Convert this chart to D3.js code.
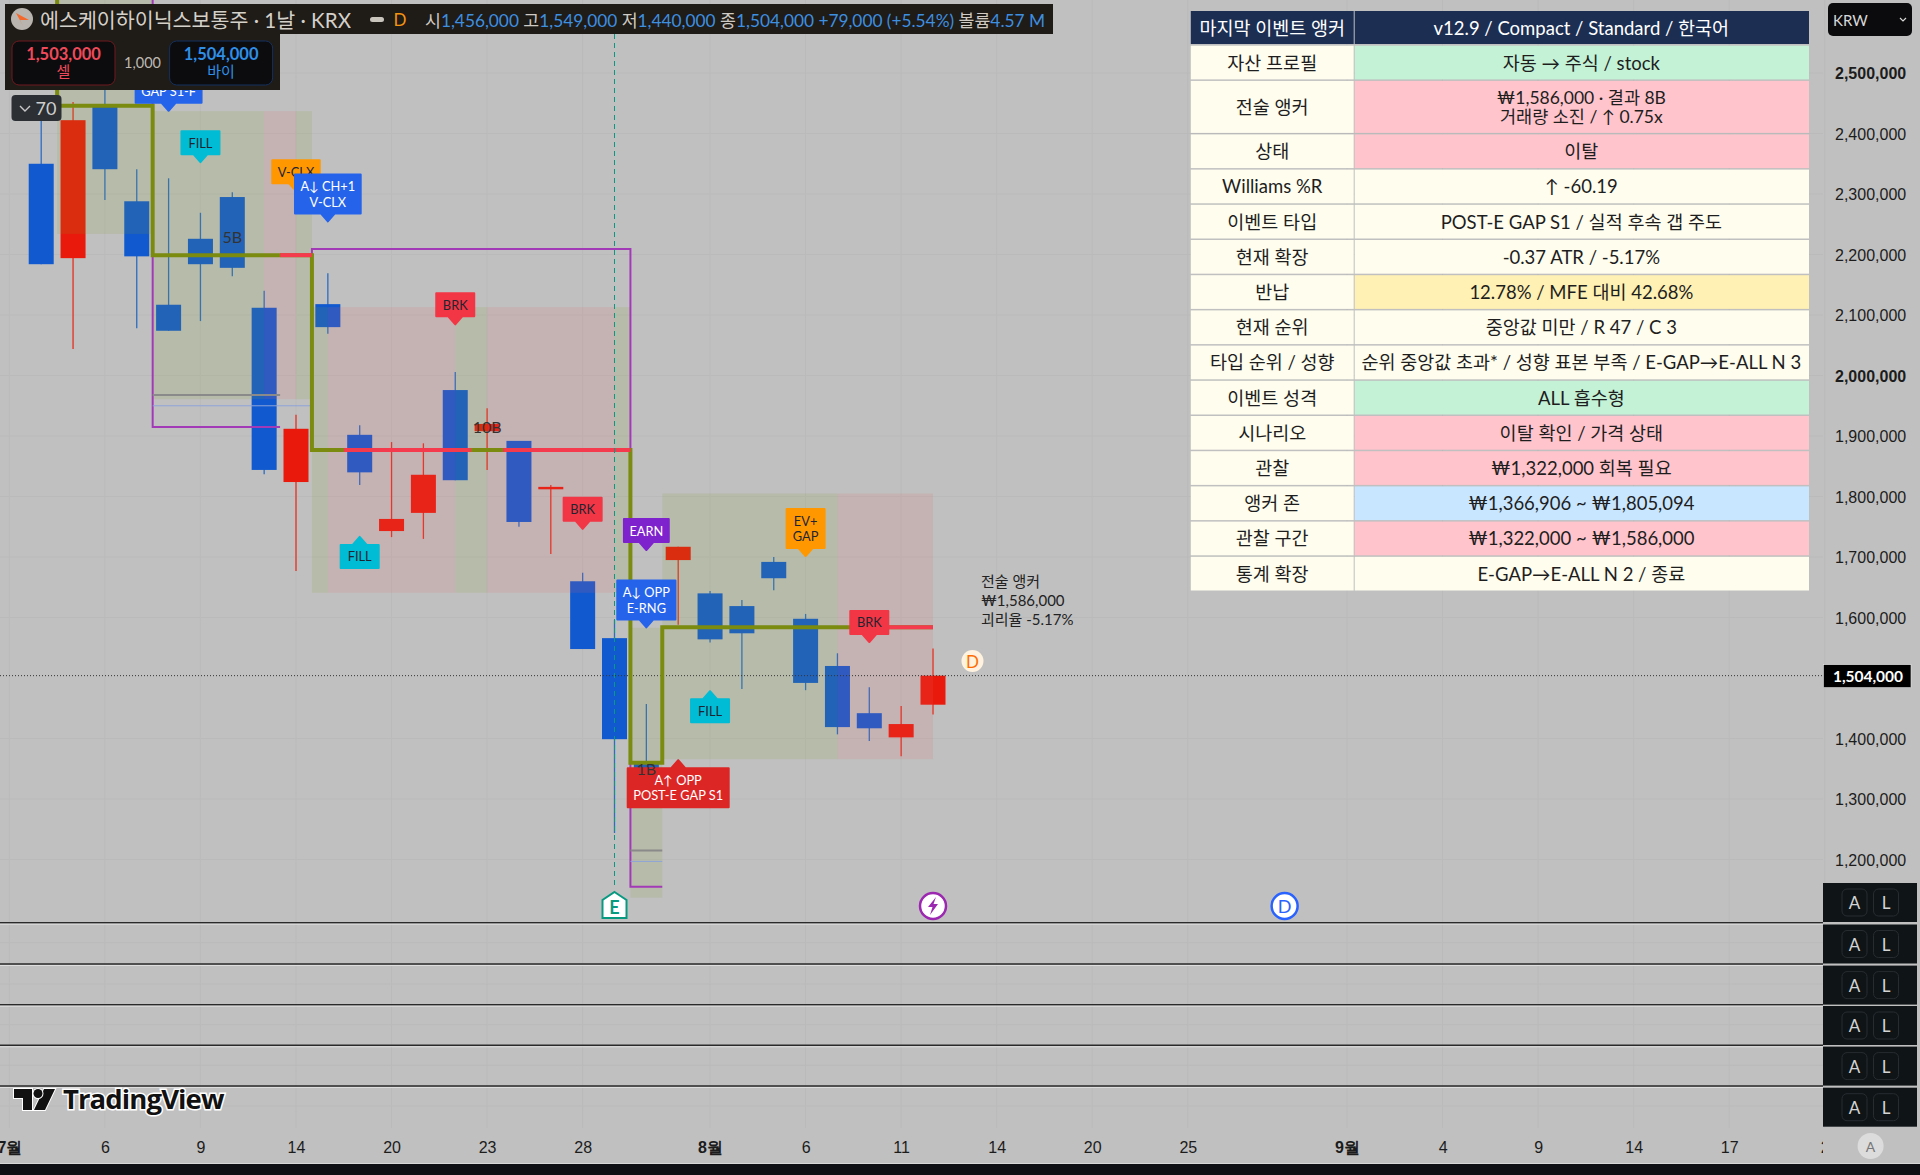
<!DOCTYPE html>
<html>

<head>
    <meta charset="utf-8">
    <style>
        html, body {
            margin: 0;
            padding: 0;
            background: #c0c0c0;
        }

        svg {
            display: block;
            font-family: Lato, 'Noto Sans CJK KR', sans-serif;
        }

        .axis path, .axis line {
            display: none;
        }
    </style>
</head>

<body>
    <svg id="chart" width="1920" height="1175"></svg>
</body>

<script src="https://d3js.org/d3.v7.min.js"></script>

<script>
    // candles, one per trading day
    let opens = [2350000, 2194000, 2445000, 2288000, 2117000, 2226000, 2295000, 2112000, 1824000, 2118000, 1902000, 1743000, 1773000, 1976000, 1908000, 1892000, 1812000, 1660000, 1566000, 1358000, 1695000, 1640000, 1619000, 1692000, 1598000, 1520000, 1442000, 1402000, 1456000]
    let highs = [2447000, 2452000, 2480000, 2341000, 2326000, 2269000, 2303000, 2140000, 1935000, 2169000, 1918000, 1890000, 1888000, 2006000, 1946000, 1892000, 1819000, 1674000, 1596000, 1457000, 1717000, 1644000, 1629000, 1700000, 1606000, 1541000, 1485000, 1454000, 1549000]
    let lows = [2184000, 2044000, 2290000, 2078000, 2074000, 2090000, 2164000, 1837000, 1677000, 2069000, 1819000, 1733000, 1730000, 1827000, 1844000, 1750000, 1705000, 1548000, 1244000, 1322000, 1588000, 1559000, 1482000, 1645000, 1480000, 1407000, 1396000, 1371000, 1440000]
    let closes = [2184000, 2422000, 2341000, 2197000, 2074000, 2184000, 2178000, 1844000, 1912000, 2080000, 1840000, 1763000, 1836000, 1827000, 1920000, 1758000, 1816000, 1548000, 1399000, 1340000, 1717000, 1564000, 1574000, 1665000, 1492000, 1419000, 1417000, 1424000, 1504000]

    // axes
    let priceTicks = [2500000, 2400000, 2300000, 2200000, 2100000, 2000000, 1900000, 1800000, 1700000, 1600000, 1400000, 1300000, 1200000]
    let boldPrices = [2500000, 2000000]
    let dateBars = [-1, 2, 5, 8, 11, 14, 17, 21, 24, 27, 30, 33, 36, 41, 44, 47, 50, 53, 56]
    let dateLabels = ['7월', '6', '9', '14', '20', '23', '28', '8월', '6', '11', '14', '20', '25', '9월', '4', '9', '14', '17', '2']
    let lastPrice = 1504000

    // shaded zones
    let zoneStarts = [0.5, 3.5, 7, 8, 8.5, 9, 13, 14, 18, 18.5, 19.5, 25]
    let zoneEnds = [3.5, 7, 8, 8.5, 9, 13, 14, 18, 18.5, 19.5, 25, 28]
    let zoneTops = [2640000, 2437000, 2437000, 2437000, 2113000, 2113000, 2113000, 2113000, 2113000, 1583000, 1805000, 1805000]
    let zoneBottoms = [2234000, 1961000, 1961000, 1961000, 1641000, 1641000, 1641000, 1641000, 1641000, 1137000, 1366000, 1366000]
    let zoneKinds = ['olive', 'olive', 'pink', 'olive', 'olive', 'pink', 'olive', 'pink', 'olive', 'olive', 'olive', 'pink']

    // anchor step line and the stretches of it that were broken
    let stepBars = [0.5, 0.5, 3.5, 8.5, 18.5, 19.5, 28]
    let stepPrices = [2640000, 2446000, 2199000, 1877000, 1360000, 1584000, 1584000]
    let brokenStarts = [7.5, 9.5, 14.5, 25.5]
    let brokenEnds = [8.5, 13.5, 18.5, 28]
    let brokenPrices = [2199000, 1877000, 1877000, 1584000]

    // purple boxes, only the middle one shows all four sides
    let boxStarts = [3.5, 8.5, 18.5]
    let boxEnds = [7.5, 18.5, 19.5]
    let boxTops = [2640000, 2209000, 1877000]
    let boxBottoms = [1915000, 1877000, 1155000]
    let boxClosed = [false, true, false]

    // short lines at the bottom of the zones
    let grayStarts = [3.5, 18.5]
    let grayEnds = [7.5, 19.5]
    let grayPrices = [1968000, 1215000]
    let blueStarts = [3.5, 18.5]
    let blueEnds = [8.5, 19.5]
    let bluePrices = [1950000, 1197000]

    // flags on the chart
    let flagBars = [4, 5, 8, 9, 13, 10, 17, 19, 19, 24, 21, 26, 20]
    let flagPrices = [2436000, 2351000, 2303000, 2253000, 2083000, 1735000, 1745000, 1710000, 1582000, 1700000, 1480000, 1558000, 1366000]
    let flagTexts = ['A↓ OPP\nGAP S1-F', 'FILL', 'V-CLX', 'A↓ CH+1\nV-CLX', 'BRK', 'FILL', 'BRK', 'EARN', 'A↓ OPP\nE-RNG', 'EV+\nGAP', 'FILL', 'BRK', 'A↑ OPP\nPOST-E GAP S1']
    let flagKinds = ['blue', 'cyan', 'orange', 'blue', 'red', 'cyan', 'red', 'purple', 'blue', 'orange', 'cyan', 'red', 'crimson']
    let flagUp = [false, false, false, false, false, true, false, false, false, false, true, false, true]

    // count labels on the candles
    let countBars = [6, 14, 19]
    let countPrices = [2230000, 1915000, 1350000]
    let countTexts = ['5B', '10B', '1B']

    // info table
    let tableHead = ['마지막 이벤트 앵커', 'v12.9 / Compact / Standard / 한국어']
    let tableLabels = ['자산 프로필', '전술 앵커', '상태', 'Williams %R', '이벤트 타입', '현재 확장', '반납', '현재 순위', '타입 순위 / 성향', '이벤트 성격', '시나리오', '관찰', '앵커 존', '관찰 구간', '통계 확장']
    let tableValues = [
        '자동 → 주식 / stock',
        '₩1,586,000 · 결과 8B\n거래량 소진 / ↑ 0.75x',
        '이탈',
        '↑ -60.19',
        'POST-E GAP S1 / 실적 후속 갭 주도',
        '-0.37 ATR / -5.17%',
        '12.78% / MFE 대비 42.68%',
        '중앙값 미만 / R 47 / C 3',
        '순위 중앙값 초과* / 성향 표본 부족 / E-GAP→E-ALL N 3',
        'ALL 흡수형',
        '이탈 확인 / 가격 상태',
        '₩1,322,000 회복 필요',
        '₩1,366,906 ~ ₩1,805,094',
        '₩1,322,000 ~ ₩1,586,000',
        'E-GAP→E-ALL N 2 / 종료'
    ]
    let tableKinds = ['good', 'bad', 'bad', 'plain', 'plain', 'plain', 'warn', 'plain', 'plain', 'good', 'bad', 'bad', 'info', 'bad', 'plain']

    // header
    let headerTitle = '에스케이하이닉스보통주 · 1날 · KRX'
    let headerNames = ['시', '고', '저', '종']
    let headerValues = ['1,456,000', '1,549,000', '1,440,000', '1,504,000']
    let headerChange = '+79,000 (+5.54%)'
    let headerVolume = '4.57 M'
    let sellPrice = '1,503,000'
    let buyPrice = '1,504,000'
    let spread = '1,000'
    let anchorNote = ['전술 앵커', '₩1,586,000', '괴리율 -5.17%']

    let colors = {
        up: '#e9190b', down: '#1159cf',
        upWick: '#e62f1f', downWick: '#2b6cc4',
        olive: 'rgba(132,159,45,0.15)', pink: 'rgba(225,99,105,0.15)',
        anchor: '#7b8b0f', broken: '#f43a4c', box: '#a23ab8',
        blue: '#2563eb', cyan: '#00bcd4', orange: '#ff9800', red: '#f23645', purple: '#7e22ce', crimson: '#dc2626',
        good: '#c4f2d6', bad: '#ffc4cc', warn: '#fff0b3', info: '#c8e6ff', plain: '#fffdee'
    }
    let darkFlags = ['cyan', 'orange', 'red']

    let plotRight = 1823

    let x = d3.scaleLinear().domain([0, 1]).range([41.2, 73.05])
    let y = d3.scaleLinear().domain([2500000, 1200000]).range([73, 859.6])

    let svg = d3.select('#chart')

    svg.append('clipPath').attr('id', 'plot-clip')
        .append('rect').attr('width', plotRight).attr('height', 1175)

    // grid
    let grid = svg.append('g')
    grid.selectAll('.v')
        .data(dateBars)
        .join('line')
        .attr('x1', d => x(d)).attr('x2', d => x(d))
        .attr('y1', 0).attr('y2', 1128)
        .attr('stroke', '#bababa').attr('stroke-width', 1)
    grid.selectAll('.h')
        .data(priceTicks)
        .join('line')
        .attr('x1', 0).attr('x2', plotRight)
        .attr('y1', d => y(d)).attr('y2', d => y(d))
        .attr('stroke', '#bababa').attr('stroke-width', 1)

    // candles
    let candles = svg.append('g')
        .selectAll('g')
        .data(opens.map((o, i) => ({ i, o, h: highs[i], l: lows[i], c: closes[i] })))
        .join('g')

    candles.append('line')
        .attr('x1', d => x(d.i)).attr('x2', d => x(d.i))
        .attr('y1', d => y(d.h)).attr('y2', d => y(d.l))
        .attr('stroke', d => d.c >= d.o ? colors.upWick : colors.downWick)
        .attr('stroke-width', 1.3)

    candles.append('rect')
        .attr('x', d => x(d.i) - 12.5)
        .attr('width', 25)
        .attr('y', d => y(Math.max(d.o, d.c)))
        .attr('height', d => Math.max(2, Math.abs(y(d.o) - y(d.c))))
        .attr('fill', d => d.c >= d.o ? colors.up : colors.down)

    // zones lie over the candles and tint them
    svg.append('g')
        .selectAll('rect')
        .data(zoneStarts)
        .join('rect')
        .attr('x', d => x(d))
        .attr('width', (d, i) => x(zoneEnds[i]) - x(d))
        .attr('y', (d, i) => y(zoneTops[i]))
        .attr('height', (d, i) => y(zoneBottoms[i]) - y(zoneTops[i]))
        .attr('fill', (d, i) => colors[zoneKinds[i]])

    // last price dotted line
    svg.append('line')
        .attr('x1', 0).attr('x2', plotRight)
        .attr('y1', y(lastPrice)).attr('y2', y(lastPrice))
        .attr('stroke', '#333').attr('stroke-width', 1).attr('stroke-dasharray', '1 2')

    // purple boxes
    svg.append('g')
        .selectAll('path')
        .data(boxStarts)
        .join('path')
        .attr('d', (d, i) => {
            let p = d3.path()
            p.moveTo(x(d), y(boxTops[i]))
            p.lineTo(x(d), y(boxBottoms[i]))
            p.lineTo(x(boxEnds[i]), y(boxBottoms[i]))
            if (boxClosed[i]) {
                p.lineTo(x(boxEnds[i]), y(boxTops[i]))
                p.closePath()
            }
            return p.toString()
        })
        .attr('fill', 'none')
        .attr('stroke', colors.box)
        .attr('stroke-width', 2)

    svg.append('g').selectAll('line')
        .data(grayStarts)
        .join('line')
        .attr('x1', d => x(d)).attr('x2', (d, i) => x(grayEnds[i]))
        .attr('y1', (d, i) => y(grayPrices[i])).attr('y2', (d, i) => y(grayPrices[i]))
        .attr('stroke', '#8a8a8a').attr('stroke-width', 2)

    svg.append('g').selectAll('line')
        .data(blueStarts)
        .join('line')
        .attr('x1', d => x(d)).attr('x2', (d, i) => x(blueEnds[i]))
        .attr('y1', (d, i) => y(bluePrices[i])).attr('y2', (d, i) => y(bluePrices[i]))
        .attr('stroke', '#8ea4d8').attr('stroke-width', 1)

    // anchor step line
    let step = d3.line()
        .x(d => x(d[0]))
        .y(d => y(d[1]))
        .curve(d3.curveStepAfter)

    svg.append('path')
        .attr('d', step(stepBars.map((b, i) => [b, stepPrices[i]])))
        .attr('fill', 'none')
        .attr('stroke', colors.anchor)
        .attr('stroke-width', 4)

    svg.append('g').selectAll('line')
        .data(brokenStarts)
        .join('line')
        .attr('x1', d => x(d)).attr('x2', (d, i) => x(brokenEnds[i]))
        .attr('y1', (d, i) => y(brokenPrices[i])).attr('y2', (d, i) => y(brokenPrices[i]))
        .attr('stroke', colors.broken).attr('stroke-width', 4)

    // earnings line and markers
    svg.append('line')
        .attr('x1', x(18)).attr('x2', x(18))
        .attr('y1', 34).attr('y2', 886)
        .attr('stroke', '#089981').attr('stroke-width', 1).attr('stroke-dasharray', '5 4')

    let ex = x(18)
    svg.append('path')
        .attr('d', `M${ex} 892L${ex + 12} 900V918H${ex - 12}V900Z`)
        .attr('fill', '#fff').attr('stroke', '#089981').attr('stroke-width', 2)
    svg.append('text')
        .attr('x', ex).attr('y', 907)
        .attr('text-anchor', 'middle').attr('dominant-baseline', 'central')
        .attr('font-size', 18).attr('font-weight', 700).attr('fill', '#089981')
        .text('E')

    svg.append('circle')
        .attr('cx', x(28)).attr('cy', 906).attr('r', 13)
        .attr('fill', '#fff').attr('stroke', '#9c27b0').attr('stroke-width', 2.5)
    svg.append('path')
        .attr('d', `M${x(28) + 3} 897L${x(28) - 5} 907H${x(28) - 0.5}L${x(28) - 3} 915L${x(28) + 5} 904H${x(28) + 0.5}Z`)
        .attr('fill', '#9c27b0')

    svg.append('circle')
        .attr('cx', x(39.04)).attr('cy', 906).attr('r', 13)
        .attr('fill', '#fff').attr('stroke', '#2962ff').attr('stroke-width', 2.5)
    svg.append('text')
        .attr('x', x(39.04)).attr('y', 906)
        .attr('text-anchor', 'middle').attr('dominant-baseline', 'central')
        .attr('font-size', 18).attr('fill', '#2962ff')
        .text('D')

    svg.append('circle')
        .attr('cx', x(29.24)).attr('cy', 661).attr('r', 11)
        .attr('fill', '#fff3e0')
    svg.append('text')
        .attr('x', x(29.24)).attr('y', 661)
        .attr('text-anchor', 'middle').attr('dominant-baseline', 'central')
        .attr('font-size', 17).attr('fill', '#ff6d00')
        .text('D')

    // note next to the last candle
    svg.append('g').selectAll('text')
        .data(anchorNote)
        .join('text')
        .attr('x', 981)
        .attr('y', (d, i) => 581 + i * 19)
        .attr('dominant-baseline', 'central')
        .attr('font-size', 15)
        .attr('fill', '#222')
        .text(d => d)

    // flags
    let flags = svg.append('g')
        .selectAll('g')
        .data(flagTexts.map((t, i) => ({ t, i })))
        .join('g')

    flags.each(function (d) {
        let g = d3.select(this)
        let lines = d.t.split('\n')
        let tipX = x(flagBars[d.i])
        let tipY = y(flagPrices[d.i])
        let up = flagUp[d.i]
        let h = lines.length > 1 ? 39 : 23
        let top = up ? tipY + 9 : tipY - 9 - h
        let kind = flagKinds[d.i]

        let shape = g.append('path').attr('fill', colors[kind])
        let label = g.append('text')
            .attr('text-anchor', 'middle')
            .attr('font-size', 12.8)
            .attr('fill', darkFlags.includes(kind) ? '#1f2430' : '#fff')

        lines.forEach((l, k) => {
            label.append('tspan')
                .attr('x', tipX)
                .attr('y', top + h / 2 + (k - (lines.length - 1) / 2) * 15.5)
                .attr('dominant-baseline', 'central')
                .text(l)
        })

        let w = Math.max(38, d3.max(label.selectAll('tspan').nodes(), n => n.getComputedTextLength()) + 11)
        let left = tipX - w / 2
        let tip = up
            ? `M${left} ${top}H${tipX - 7}L${tipX} ${tipY + 1}L${tipX + 7} ${top}H${left + w}`
            : `M${left} ${top}H${left + w}`
        let bottom = top + h
        let tail = up
            ? `V${bottom}H${left}Z`
            : `V${bottom}H${tipX + 7}L${tipX} ${tipY - 1}L${tipX - 7} ${bottom}H${left}Z`
        shape.attr('d', tip + tail)
            .attr('stroke', colors[kind]).attr('stroke-width', 2).attr('stroke-linejoin', 'round')
    })

    // count labels go over the flags
    svg.append('g').selectAll('text')
        .data(countTexts)
        .join('text')
        .attr('x', (d, i) => x(countBars[i]))
        .attr('y', (d, i) => y(countPrices[i]))
        .attr('text-anchor', 'middle')
        .attr('dominant-baseline', 'central')
        .attr('font-size', 16)
        .attr('fill', '#333')
        .text(d => d)

    // price axis
    svg.append('g')
        .attr('class', 'axis')
        .attr('transform', 'translate(1835,0.5)')
        .call(d3.axisRight(y).tickValues(priceTicks).tickSize(0).tickPadding(0).tickFormat(d3.format(',')))
        .call(g => g.selectAll('text')
            .attr('font-size', 16)
            .attr('fill', '#1c1c1c')
            .attr('font-weight', d => boldPrices.includes(d) ? 700 : 400))

    // panes at the bottom
    let paneTops = [883, 924.5, 965.6, 1006, 1046.6, 1087.7]
    let paneLines = [922.7, 964, 1004.7, 1045.3, 1086]

    svg.append('g').selectAll('line')
        .data(paneLines)
        .join('line')
        .attr('x1', 0).attr('x2', plotRight)
        .attr('y1', d => d).attr('y2', d => d)
        .attr('stroke', '#2a2a2a').attr('stroke-width', 1.6)
    svg.append('g').selectAll('line')
        .data(paneLines)
        .join('line')
        .attr('x1', 0).attr('x2', plotRight)
        .attr('y1', d => d + 1.5).attr('y2', d => d + 1.5)
        .attr('stroke', '#dedede').attr('stroke-width', 1)
    svg.append('g').selectAll('line')
        .data(paneLines)
        .join('line')
        .attr('x1', 0).attr('x2', plotRight)
        .attr('y1', d => d + 20).attr('y2', d => d + 20)
        .attr('stroke', '#bababa').attr('stroke-width', 1)

    let panes = svg.append('g').selectAll('g')
        .data(paneTops)
        .join('g')
        .attr('transform', d => `translate(1823,${d})`)
    panes.append('rect')
        .attr('width', 94).attr('height', 39)
        .attr('fill', '#0f1417')
    panes.selectAll('.btn')
        .data(['A', 'L'])
        .join('rect')
        .attr('x', (d, i) => 19 + i * 31.5)
        .attr('y', 6).attr('width', 25).attr('height', 27).attr('rx', 5)
        .attr('fill', 'none').attr('stroke', '#262c30')
    panes.selectAll('text')
        .data(['A', 'L'])
        .join('text')
        .attr('x', (d, i) => 31.5 + i * 31.5)
        .attr('y', 19.5)
        .attr('text-anchor', 'middle').attr('dominant-baseline', 'central')
        .attr('font-size', 17).attr('fill', '#d4d4d4')
        .text(d => d)

    // date axis
    svg.append('g')
        .attr('clip-path', 'url(#plot-clip)')
        .append('g')
        .attr('class', 'axis')
        .attr('transform', 'translate(0,1141.5)')
        .call(d3.axisBottom(x).tickValues(dateBars).tickSize(0).tickPadding(0).tickFormat((d, i) => dateLabels[i]))
        .call(g => g.selectAll('text')
            .attr('font-size', 16)
            .attr('fill', '#1c1c1c')
            .attr('font-weight', (d, i) => dateLabels[i].includes('월') ? 700 : 400))

    svg.append('rect')
        .attr('x', 0).attr('y', 1164).attr('width', 1920).attr('height', 11)
        .attr('fill', '#0e1014')
    svg.append('line')
        .attr('x1', 0).attr('x2', 1920).attr('y1', 1163.5).attr('y2', 1163.5)
        .attr('stroke', '#d8d8d8')

    svg.append('circle')
        .attr('cx', 1870.6).attr('cy', 1146).attr('r', 13)
        .attr('fill', '#dcdcdc')
    svg.append('text')
        .attr('x', 1870.6).attr('y', 1146)
        .attr('text-anchor', 'middle').attr('dominant-baseline', 'central')
        .attr('font-size', 14).attr('fill', '#777')
        .text('A')

    // TradingView mark
    let logo = svg.append('g').attr('transform', 'translate(14,1089)')
    logo.append('path')
        .attr('d', 'M0 0H18V21H9V9H0ZM30 0H41L31 21H20Z')
        .attr('fill', '#111').attr('stroke', '#fff').attr('stroke-width', 2).attr('paint-order', 'stroke')
    logo.append('circle')
        .attr('cx', 24).attr('cy', 4.5).attr('r', 4.5)
        .attr('fill', '#111').attr('stroke', '#fff').attr('stroke-width', 2).attr('paint-order', 'stroke')
    svg.append('text')
        .attr('x', 63).attr('y', 1109)
        .attr('font-family', "'Open Sans', sans-serif")
        .attr('font-size', 27.5).attr('font-weight', 700)
        .attr('letter-spacing', -0.9)
        .attr('fill', '#111').attr('stroke', '#fff').attr('stroke-width', 3).attr('paint-order', 'stroke')
        .text('TradingView')

    // last price tag
    svg.append('rect')
        .attr('x', 1823.4).attr('y', y(lastPrice) - 11).attr('width', 87.6).attr('height', 23)
        .attr('fill', '#000').attr('stroke', '#e8e8e8').attr('stroke-width', 0.6)
    svg.append('text')
        .attr('x', 1868).attr('y', y(lastPrice))
        .attr('text-anchor', 'middle').attr('dominant-baseline', 'central')
        .attr('font-size', 15.5).attr('font-weight', 700).attr('fill', '#fff')
        .text(d3.format(',')(lastPrice))

    // currency button
    svg.append('rect')
        .attr('x', 1828).attr('y', 3).attr('width', 84).attr('height', 33).attr('rx', 5)
        .attr('fill', '#0b0b0d')
    svg.append('text')
        .attr('x', 1833).attr('y', 19.5)
        .attr('dominant-baseline', 'central')
        .attr('font-size', 15).attr('fill', '#d8d8d8')
        .text('KRW')
    svg.append('path')
        .attr('d', 'M1900 18l3 3l3 -3')
        .attr('fill', 'none').attr('stroke', '#d8d8d8').attr('stroke-width', 1.2)

    // info table
    let tableLeft = 1190.8
    let tableSplit = 1353.7
    let tableRight = 1809
    let tableFont = 18.5
    let rowH = d => d.includes('\n') ? 52 : 33.7
    let rowY = []
    tableValues.reduce((top, v, i) => {
        rowY[i] = top
        return top + rowH(v) + 1.5
    }, 45.7)

    let table = svg.append('g')

    table.selectAll('.head')
        .data(tableHead)
        .join('rect')
        .attr('x', (d, i) => i ? tableSplit + 1 : tableLeft)
        .attr('width', (d, i) => i ? tableRight - tableSplit - 1 : tableSplit - tableLeft)
        .attr('y', 11).attr('height', 33)
        .attr('fill', '#1c2e52')
    table.selectAll('.head-text')
        .data(tableHead)
        .join('text')
        .attr('x', (d, i) => i ? (tableSplit + tableRight) / 2 : (tableLeft + tableSplit) / 2)
        .attr('y', 27.5)
        .attr('text-anchor', 'middle').attr('dominant-baseline', 'central')
        .attr('font-size', tableFont).attr('fill', '#fff')
        .text(d => d)

    let rows = table.selectAll('.row')
        .data(tableValues)
        .join('g')
        .attr('transform', (d, i) => `translate(0,${rowY[i]})`)

    rows.append('rect')
        .attr('x', tableLeft).attr('width', tableSplit - tableLeft)
        .attr('height', rowH)
        .attr('fill', colors.plain)
    rows.append('rect')
        .attr('x', tableSplit + 1).attr('width', tableRight - tableSplit - 1)
        .attr('height', rowH)
        .attr('fill', (d, i) => colors[tableKinds[i]])
    rows.append('text')
        .attr('x', (tableLeft + tableSplit) / 2)
        .attr('y', d => rowH(d) / 2)
        .attr('text-anchor', 'middle').attr('dominant-baseline', 'central')
        .attr('font-size', tableFont).attr('fill', '#1e1e1e')
        .text((d, i) => tableLabels[i])
    rows.each(function (d) {
        let lines = d.split('\n')
        let t = d3.select(this).append('text')
            .attr('text-anchor', 'middle')
            .attr('font-size', lines.length > 1 ? 17.5 : tableFont).attr('fill', '#1e1e1e')
        lines.forEach((l, k) => {
            t.append('tspan')
                .attr('x', (tableSplit + tableRight) / 2)
                .attr('y', rowH(d) / 2 + (k - (lines.length - 1) / 2) * 18.3)
                .attr('dominant-baseline', 'central')
                .text(l)
        })
    })

    // header bars sit on top of everything
    svg.append('rect')
        .attr('x', 5).attr('y', 4).attr('width', 1048).attr('height', 30)
        .attr('fill', '#1f1b16')
    svg.append('rect')
        .attr('x', 5).attr('y', 34).attr('width', 275).attr('height', 56)
        .attr('fill', '#1f1b16')

    svg.append('circle')
        .attr('cx', 22).attr('cy', 19).attr('r', 11)
        .attr('fill', '#b9b4ae')
    svg.append('path')
        .attr('d', 'M16 13L29 20L20 20L23 26Z')
        .attr('fill', '#f4682c')

    svg.append('text')
        .attr('x', 40).attr('y', 19.5)
        .attr('dominant-baseline', 'central')
        .attr('font-size', 20.6).attr('fill', '#d4d0ca')
        .text(headerTitle)

    svg.append('rect')
        .attr('x', 370).attr('y', 17).attr('width', 14).attr('height', 5).attr('rx', 2.5)
        .attr('fill', '#c9c4bc')
    svg.append('text')
        .attr('x', 400).attr('y', 19.5)
        .attr('text-anchor', 'middle').attr('dominant-baseline', 'central')
        .attr('font-size', 17).attr('fill', '#f5940f')
        .text('D')

    let ohlc = svg.append('text')
        .attr('x', 425).attr('y', 19.5)
        .attr('dominant-baseline', 'central')
        .attr('font-size', 17.3)
    headerNames.forEach((n, i) => {
        ohlc.append('tspan').attr('fill', '#cfcac3').text((i ? ' ' : '') + n)
        ohlc.append('tspan').attr('fill', '#3d8fe0').text(headerValues[i])
    })
    ohlc.append('tspan').attr('fill', '#3d8fe0').text(' ' + headerChange)
    ohlc.append('tspan').attr('fill', '#cfcac3').text(' 볼륨')
    ohlc.append('tspan').attr('fill', '#3d8fe0').text(headerVolume)

    // sell and buy buttons
    let trade = svg.append('g').selectAll('g')
        .data([
            { px: 12, w: 103, line: '#6e1a20', col: '#f04a5a', price: sellPrice, name: '셀' },
            { px: 169.6, w: 103, line: '#14305f', col: '#2f8fe8', price: buyPrice, name: '바이' }
        ])
        .join('g')
    trade.append('rect')
        .attr('x', d => d.px).attr('y', 41).attr('width', d => d.w).attr('height', 44).attr('rx', 7)
        .attr('fill', '#0c0c0e').attr('stroke', d => d.line)
    trade.append('text')
        .attr('x', d => d.px + d.w / 2).attr('y', 54)
        .attr('text-anchor', 'middle').attr('dominant-baseline', 'central')
        .attr('font-size', 16.5).attr('font-weight', 700).attr('fill', d => d.col)
        .text(d => d.price)
    trade.append('text')
        .attr('x', d => d.px + d.w / 2).attr('y', 71)
        .attr('text-anchor', 'middle').attr('dominant-baseline', 'central')
        .attr('font-size', 15).attr('fill', d => d.col)
        .text(d => d.name)
    svg.append('text')
        .attr('x', 142.5).attr('y', 62)
        .attr('text-anchor', 'middle').attr('dominant-baseline', 'central')
        .attr('font-size', 14.5).attr('fill', '#bdb9b2')
        .text(spread)

    // collapse button
    svg.append('rect')
        .attr('x', 11.5).attr('y', 95).attr('width', 50).attr('height', 26).attr('rx', 4)
        .attr('fill', '#2c2f33')
    svg.append('path')
        .attr('d', 'M20 106l5 5l5 -5')
        .attr('fill', 'none').attr('stroke', '#c8c8c8').attr('stroke-width', 1.4)
    svg.append('text')
        .attr('x', 46).attr('y', 108)
        .attr('text-anchor', 'middle').attr('dominant-baseline', 'central')
        .attr('font-size', 18).attr('fill', '#cfcfcf')
        .text('70')
</script>

</html>
